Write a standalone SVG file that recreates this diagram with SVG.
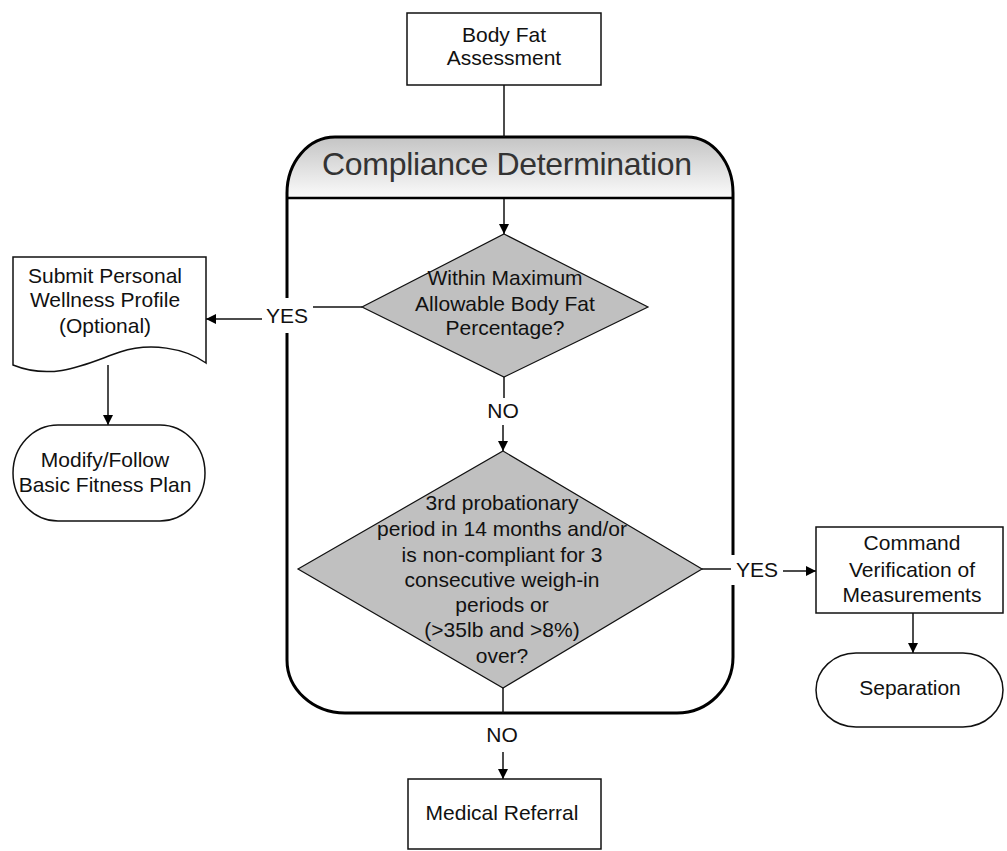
<svg xmlns="http://www.w3.org/2000/svg" width="1007" height="851" viewBox="0 0 1007 851">
  <defs>
    <linearGradient id="hdr" x1="0" y1="0" x2="0" y2="1">
      <stop offset="0" stop-color="#c4c4c4"/>
      <stop offset="1" stop-color="#fbfbfb"/>
    </linearGradient>
    <marker id="arr" viewBox="0 0 10 10" refX="10" refY="5" markerWidth="10" markerHeight="10" markerUnits="userSpaceOnUse" orient="auto">
      <path d="M0,0 L10,5 L0,10 Z" fill="#000"/>
    </marker>
  </defs>
  <style>
    text { font-family: "Liberation Sans", Arial, sans-serif; font-size: 21px; fill: #111; text-anchor: middle; }
    .box { fill: #fff; stroke: #111; stroke-width: 1.5; }
    .dia { fill: #c0c0c0; stroke: #111; stroke-width: 1.2; }
    .ln { fill: none; stroke: #111; stroke-width: 1.5; }
    .arrow { fill: none; stroke: #111; stroke-width: 1.5; marker-end: url(#arr); }
    .frame { fill: none; stroke: #000; stroke-width: 3; }
    .title { font-size: 32px; fill: #333; }
    .lbl-bg { fill: #fff; }
  </style>

  <rect width="1007" height="851" fill="#fff"/>

  <!-- Swimlane container: Compliance Determination -->
  <g id="compliance">
    <path d="M287,198 V193 A48,56 0 0 1 335,137 H687 A46,56 0 0 1 733,193 V198 Z" fill="url(#hdr)"/>
    <path class="frame" d="M287,193 A48,56 0 0 1 335,137 H687 A46,56 0 0 1 733,193 V657 A56,56 0 0 1 677,713 H345 A58,53 0 0 1 287,660 Z"/>
    <line x1="287" y1="198" x2="733" y2="198" stroke="#000" stroke-width="2.5"/>
    <text class="title" x="507" y="175" textLength="370" lengthAdjust="spacing">Compliance Determination</text>
  </g>

  <!-- Connectors -->
  <g id="connectors">
    <line class="ln" x1="504" y1="85" x2="504" y2="137"/>
    <line class="arrow" x1="504" y1="199" x2="504" y2="234"/>
    <!-- YES from first decision -->
    <line class="ln" x1="362" y1="307" x2="313" y2="307"/>
    <rect class="lbl-bg" x="263" y="298" width="48" height="35"/>
    <text x="287" y="323">YES</text>
    <line class="arrow" x1="262" y1="319" x2="206" y2="319"/>
    <line class="arrow" x1="108" y1="365" x2="108" y2="425"/>
    <!-- NO from first decision -->
    <line class="ln" x1="504" y1="377" x2="504" y2="398"/>
    <text x="503" y="418">NO</text>
    <line class="arrow" x1="503" y1="425" x2="503" y2="451"/>
    <!-- YES from second decision -->
    <line class="ln" x1="702" y1="569" x2="731" y2="569"/>
    <rect class="lbl-bg" x="731" y="555" width="50" height="30"/>
    <text x="757" y="577">YES</text>
    <line class="arrow" x1="783" y1="571" x2="816" y2="571"/>
    <line class="arrow" x1="913" y1="613" x2="913" y2="653"/>
    <!-- NO from second decision -->
    <line class="ln" x1="503" y1="688" x2="503" y2="713"/>
    <text x="502" y="742">NO</text>
    <line class="arrow" x1="503" y1="752" x2="503" y2="779"/>
  </g>

  <g id="body-fat-assessment">
    <rect class="box" x="407" y="13" width="194" height="72"/>
    <text x="504" y="42">Body Fat</text>
    <text x="504" y="65">Assessment</text>
  </g>

  <g id="within-max">
    <polygon class="dia" points="504,234 648,307 504,377 362,307"/>
    <text x="505" y="285">Within Maximum</text>
    <text x="505" y="311">Allowable Body Fat</text>
    <text x="505" y="335">Percentage?</text>
  </g>

  <g id="probationary-check">
    <polygon class="dia" points="503,451 702,569 503,688 298,569"/>
    <text x="502" y="510">3rd probationary</text>
    <text x="502" y="536">period in 14 months and/or</text>
    <text x="502" y="562">is non-compliant for 3</text>
    <text x="502" y="587">consecutive weigh-in</text>
    <text x="502" y="612">periods or</text>
    <text x="502" y="637">(&gt;35lb and &gt;8%)</text>
    <text x="502" y="663">over?</text>
  </g>

  <g id="wellness-profile">
    <path class="box" d="M13,257 H206 V363 C185,348 150,342 120,352 C90,362 55,382 13,365 Z"/>
    <text x="105" y="283">Submit Personal</text>
    <text x="105" y="307">Wellness Profile</text>
    <text x="105" y="333">(Optional)</text>
  </g>

  <g id="fitness-plan">
    <rect class="box" x="13" y="425" width="192" height="96" rx="45" ry="48"/>
    <text x="105" y="467">Modify/Follow</text>
    <text x="105" y="492">Basic Fitness Plan</text>
  </g>

  <g id="command-verification">
    <rect class="box" x="816" y="527" width="187" height="86"/>
    <text x="912" y="550">Command</text>
    <text x="912" y="577">Verification of</text>
    <text x="912" y="602">Measurements</text>
  </g>

  <g id="separation">
    <rect class="box" x="816" y="653" width="187" height="74" rx="40" ry="37"/>
    <text x="910" y="695">Separation</text>
  </g>

  <g id="medical-referral">
    <rect class="box" x="408" y="779" width="193" height="70"/>
    <text x="502" y="820">Medical Referral</text>
  </g>
</svg>
